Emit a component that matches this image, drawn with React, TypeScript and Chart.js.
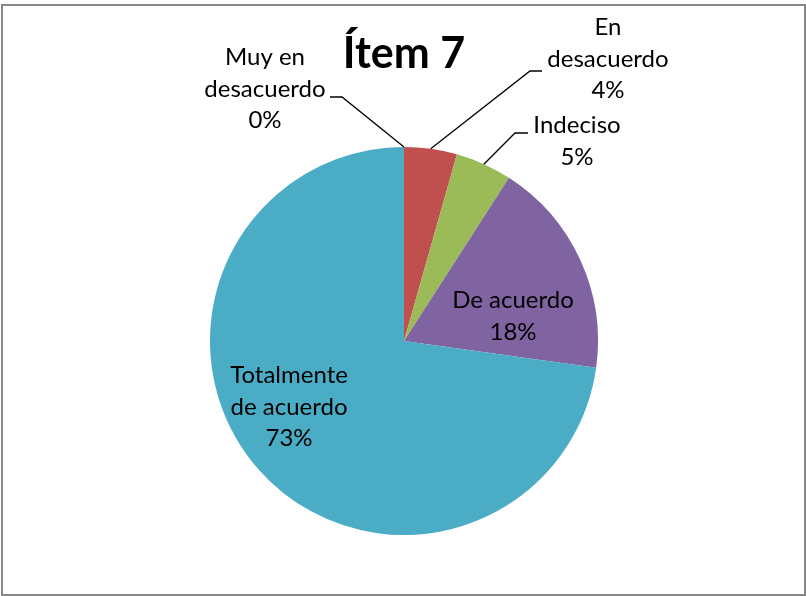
import React, { useEffect, useRef } from "react";
import { Chart, registerables } from "chart.js";

Chart.register(...registerables);

const titleText = "Ítem 7";
const categories = [
  "Muy en desacuerdo",
  "En desacuerdo",
  "Indeciso",
  "De acuerdo",
  "Totalmente de acuerdo",
];
const categoryLines = [
  ["Muy en", "desacuerdo"],
  ["En", "desacuerdo"],
  ["Indeciso"],
  ["De acuerdo"],
  ["Totalmente", "de acuerdo"],
];
const values = [0, 4.4, 4.7, 18.1, 72.8];
const colors = ["#4F81BD", "#C0504D", "#9BBB59", "#8064A2", "#4BACC6"];

// label layout relative to pie centre: x centre of text, baseline of first line,
// and optional leader elbow (x,y) + leader start x
const labelLayout = [
  { cx: -139, by: -276, leader: { sx: -74, ex: -62, y: -244 } },
  { cx: 204, by: -306, leader: { sx: 138, ex: 126, y: -270 } },
  { cx: 173, by: -208, leader: { sx: 124, ex: 111, y: -208 } },
  { cx: 109, by: -33, leader: null },
  { cx: -115, by: 42, leader: null },
];

const FONT = "Lato, 'Open Sans', sans-serif";

const labelPlugin = {
  id: "pieLabels",
  beforeDraw(chart: any) {
    const ctx = chart.ctx;
    ctx.save();
    ctx.fillStyle = "#ffffff";
    ctx.fillRect(0, 0, chart.width, chart.height);
    ctx.strokeStyle = "#878787";
    ctx.lineWidth = 2;
    ctx.strokeRect(2, 5, chart.width - 3, chart.height - 6);
    ctx.restore();
  },
  afterDatasetsDraw(chart: any) {
    const ctx = chart.ctx;
    const meta = chart.getDatasetMeta(0);
    const total = values.reduce((a, b) => a + b, 0);
    ctx.save();
    ctx.fillStyle = "#000";
    ctx.textAlign = "center";
    ctx.textBaseline = "alphabetic";
    const first = meta.data[0];
    ctx.font = `bold 43px ${FONT}`;
    ctx.fillText(titleText, first.x, 68);

    ctx.font = `24px ${FONT}`;
    const lh = 31.5;
    meta.data.forEach((arc: any, i: number) => {
      const { x, y, startAngle, endAngle, outerRadius } = arc.getProps(
        ["x", "y", "startAngle", "endAngle", "outerRadius"],
        true
      );
      const lay = labelLayout[i];
      const lines = [
        ...categoryLines[i],
        Math.round((values[i] / total) * 100) + "%",
      ];
      lines.forEach((t, k) => {
        ctx.fillText(t, x + lay.cx, y + lay.by + k * lh);
      });
      if (lay.leader) {
        const mid = (startAngle + endAngle) / 2;
        const px = x + Math.cos(mid) * outerRadius;
        const py = y + Math.sin(mid) * outerRadius;
        ctx.beginPath();
        ctx.strokeStyle = "#000";
        ctx.lineWidth = 1.3;
        ctx.moveTo(x + lay.leader.sx, y + lay.leader.y);
        ctx.lineTo(x + lay.leader.ex, y + lay.leader.y);
        ctx.lineTo(px, py);
        ctx.stroke();
      }
    });
    ctx.restore();
  },
};

export default function App() {
  const ref = useRef<HTMLCanvasElement | null>(null);
  useEffect(() => {
    if (!ref.current) return;
    const chart = new Chart(ref.current, {
      type: "pie",
      data: {
        labels: categories,
        datasets: [
          {
            data: values,
            backgroundColor: colors,
            borderWidth: 0,
          },
        ],
      },
      options: {
        animation: false,
        responsive: false,
        maintainAspectRatio: false,
        layout: { padding: { left: 210, right: 208, top: 147, bottom: 61 } },
        plugins: {
          legend: { display: false },
          tooltip: { enabled: false },
          title: { display: false },
        },
      },
      plugins: [labelPlugin],
    });
    return () => chart.destroy();
  }, []);
  return (
    <div style={{ position: "fixed", left: 0, top: 0, width: 806, height: 596, background: "#fff" }}>
      <canvas ref={ref} width={806} height={596} style={{ display: "block" }} />
    </div>
  );
}
